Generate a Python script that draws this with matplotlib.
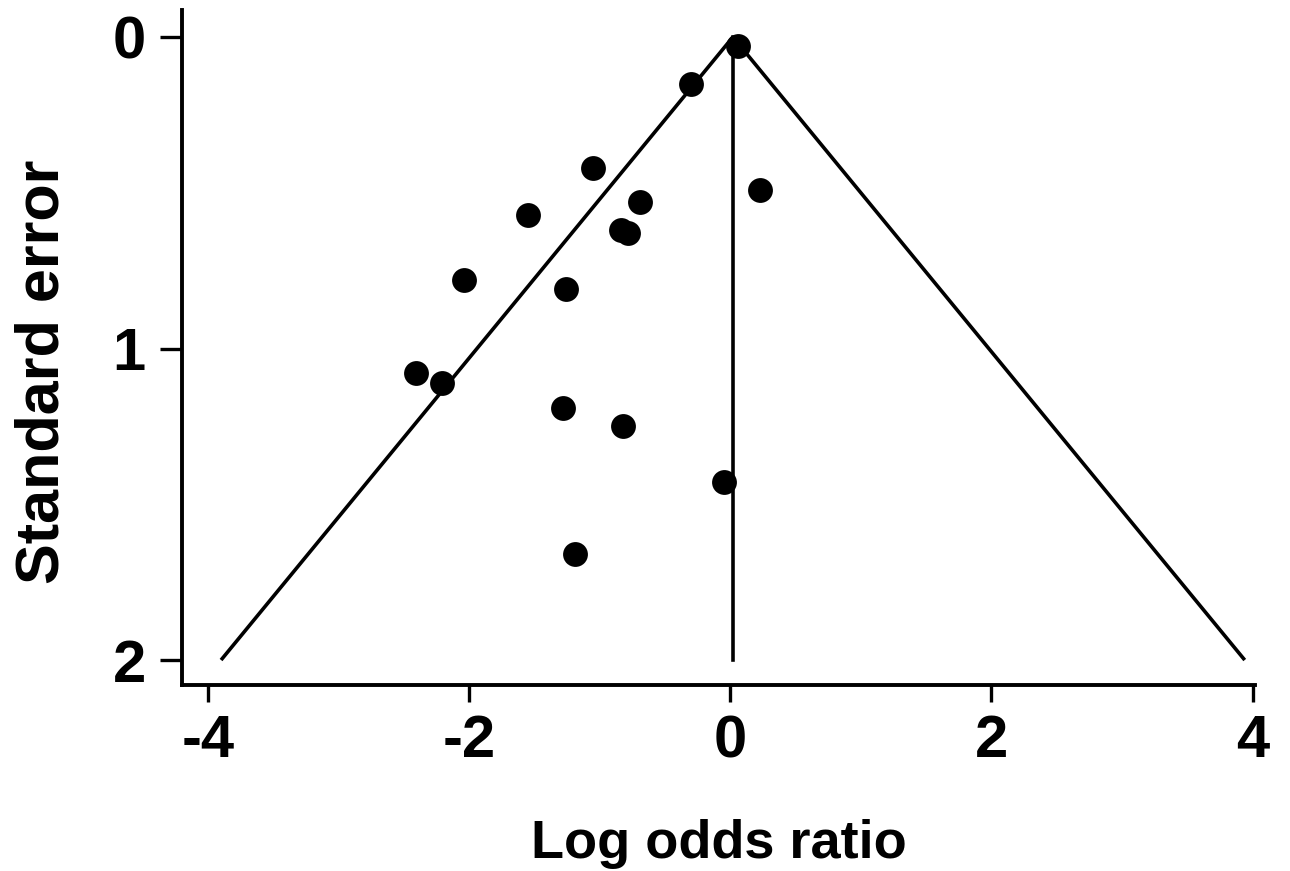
import matplotlib
matplotlib.use("Agg")
import matplotlib.pyplot as plt
import numpy as np

# Study estimates (log odds ratio) and their standard errors
log_or = [0.06, -0.30, -1.05, 0.23, -1.55, -0.69, -0.84, -0.78,
          -2.04, -1.26, -2.41, -2.21, -1.28, -0.82, -0.05, -1.19]
std_err = [0.03, 0.15, 0.42, 0.49, 0.57, 0.53, 0.62, 0.63,
           0.78, 0.81, 1.08, 1.11, 1.19, 1.25, 1.43, 1.66]

pooled = 0.02
se_max = 2.0
x_ticks = [-4, -2, 0, 2, 4]
y_ticks = [0, 1, 2]

plt.rcParams['font.family'] = ['Liberation Sans', 'DejaVu Sans']

fig = plt.figure(figsize=(12.9, 8.71), dpi=100)
ax = fig.add_axes([0.141, 0.2136, 0.832, 0.775])

se_line = np.array([0.0, se_max])
ax.plot(pooled - 1.96 * se_line, se_line, color='black', lw=2.6, solid_capstyle='butt')
ax.plot(pooled + 1.96 * se_line, se_line, color='black', lw=2.6, solid_capstyle='butt')
ax.plot([pooled, pooled], [0, se_max], color='black', lw=2.6)

ax.scatter(log_or, std_err, s=320, color='black', zorder=3, linewidths=0)

ax.set_xlim(-4.2, 4.02)
ax.set_ylim(2.08, -0.087)
ax.set_xticks(x_ticks)
ax.set_xticklabels([str(t) for t in x_ticks])
ax.set_yticks(y_ticks)
ax.set_yticklabels([str(t) for t in y_ticks])

for s in ['top', 'right']:
    ax.spines[s].set_visible(False)
for s in ['left', 'bottom']:
    ax.spines[s].set_linewidth(2.8)

ax.tick_params(axis='x', direction='out', length=12, width=2.4, pad=9)
ax.tick_params(axis='y', direction='out', length=16, width=2.4, pad=10)
for lab in ax.get_xticklabels() + ax.get_yticklabels():
    lab.set_fontweight('bold')
    lab.set_fontsize(43)

ax.set_xlabel('Log odds ratio', fontsize=39, fontweight='bold', labelpad=36)
ax.set_ylabel('Standard error', fontsize=44, fontweight='bold')
ax.yaxis.set_label_coords(-0.103, 0.464)

fig.savefig('out.png', dpi=100, facecolor='white')
